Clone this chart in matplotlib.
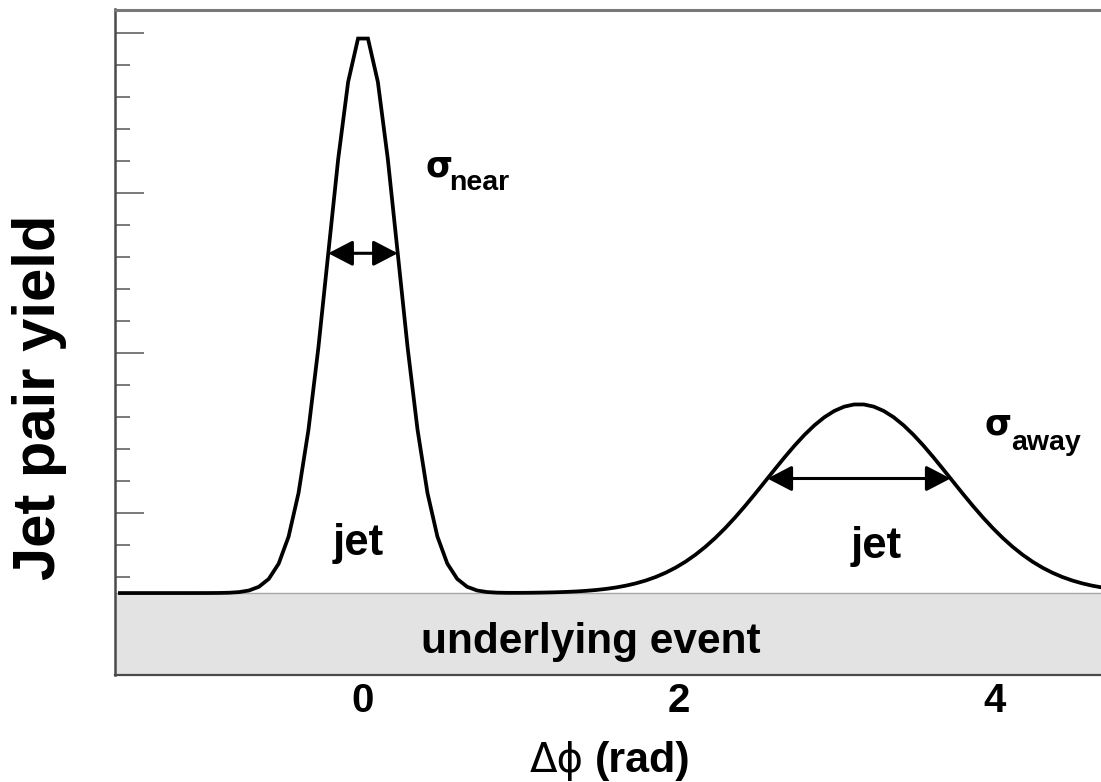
import numpy as np
import matplotlib
matplotlib.use("Agg")
import matplotlib.pyplot as plt

# Two-peak correlation model: flat underlying event plus near- and away-side jets
x_range = [-np.pi / 2, 3 * np.pi / 2]
n_bins = 100
baseline = 2.5                # underlying event level
peak_centers = [0.0, np.pi]   # near side, away side
peak_heights = [17.5, 5.9]    # jet yield above the underlying event
peak_widths = [0.22, 0.58]    # sigma_near, sigma_away
peak_names = ["near", "away"]
x_ticks = [0, 2, 4]
y_major = [5, 10, 15, 20]
y_minor = [3, 4, 6, 7, 8, 9, 11, 12, 13, 14, 16, 17, 18, 19]

# bin centres of the histogrammed curve
edges = np.linspace(x_range[0], x_range[1], n_bins + 1)
dphi = 0.5 * (edges[:-1] + edges[1:])
yield_ = np.full_like(dphi, baseline)
for c, h, s in zip(peak_centers, peak_heights, peak_widths):
    yield_ += h * np.exp(-0.5 * ((dphi - c) / s) ** 2)

W, H = 1101, 782
fig = plt.figure(figsize=(W / 100, H / 100), dpi=100)
ax = fig.add_axes([115 / W, 107 / H, (1107 - 115) / W, (675 - 9.5) / H])
ax.set_xlim(*x_range)
ax.set_ylim(-0.06, 20.73)

bold = dict(family="Liberation Sans", weight="bold")

# underlying event band
ax.fill_between(x_range, -1, baseline, facecolor="#e3e3e3", edgecolor="none", zorder=1)
ax.axhline(baseline, color="#a8a8a8", lw=1.0, zorder=1.5)
ax.text(1.44, 0.625, "underlying event", ha="center", va="baseline", fontsize=30.5, **bold)

# jet curve
ax.plot(dphi, yield_, color="black", lw=2.7, solid_joinstyle="miter", zorder=3)

# width arrows at +-sigma and labels
label_pos = {"near": ((0.394, 15.5), (0.545, 15.09)),
             "away": ((3.937, 7.44), (4.105, 6.97))}
jet_pos = [(-0.03, 3.69), (3.25, 3.6)]
for c, h, s, name, jp in zip(peak_centers, peak_heights, peak_widths, peak_names, jet_pos):
    ya = baseline + h * np.exp(-0.5)
    ax.annotate("", xy=(c - s, ya), xytext=(c + s, ya),
                arrowprops=dict(arrowstyle="<|-|>,head_length=0.5,head_width=0.26",
                                color="black", lw=2.2, shrinkA=0, shrinkB=0,
                                mutation_scale=30), zorder=4)
    (sx, sy), (tx, ty) = label_pos[name]
    ax.text(sx, sy, "σ", ha="left", va="baseline", fontsize=25, family="DejaVu Sans",
            weight="bold")
    ax.text(tx, ty, name, ha="left", va="baseline", fontsize=20.5, **bold)
    ax.text(jp[0], jp[1], "jet", ha="center", va="baseline", fontsize=31.5, **bold)

# axes styling
ax.spines["right"].set_visible(False)
ax.spines["top"].set_color("#7d7773")
ax.spines["top"].set_linewidth(2.2)
ax.spines["left"].set_color("#4a4a4a")
ax.spines["left"].set_linewidth(1.8)
ax.spines["bottom"].set_color("#4a4a4a")
ax.spines["bottom"].set_linewidth(1.6)
for sp in ax.spines.values():
    sp.set_zorder(5)

ax.set_xticks(x_ticks)
ax.set_xticklabels([str(t) for t in x_ticks], fontsize=29, fontfamily="Liberation Sans",
                   fontweight="bold")
ax.tick_params(axis="x", length=0, pad=5)

ax.set_yticks(y_major)
ax.set_yticks(y_minor, minor=True)
ax.set_yticklabels([])
ax.tick_params(axis="y", which="major", direction="in", length=21, width=1.1,
               color="#555555", right=False)
ax.tick_params(axis="y", which="minor", direction="in", length=10.5, width=1.1,
               color="#555555", right=False)

# axis titles
fig.text(40 / W, 1 - 397 / H, "Jet pair yield", rotation=90, ha="center", va="center",
         fontsize=43, **bold)
fig.text(584 / W, 1 - 772 / H, "Δϕ", ha="right", va="baseline", fontsize=29,
         family="DejaVu Sans")
fig.text(595 / W, 1 - 772 / H, "(rad)", ha="left", va="baseline", fontsize=31, **bold)

fig.savefig("out.png", dpi=100)
